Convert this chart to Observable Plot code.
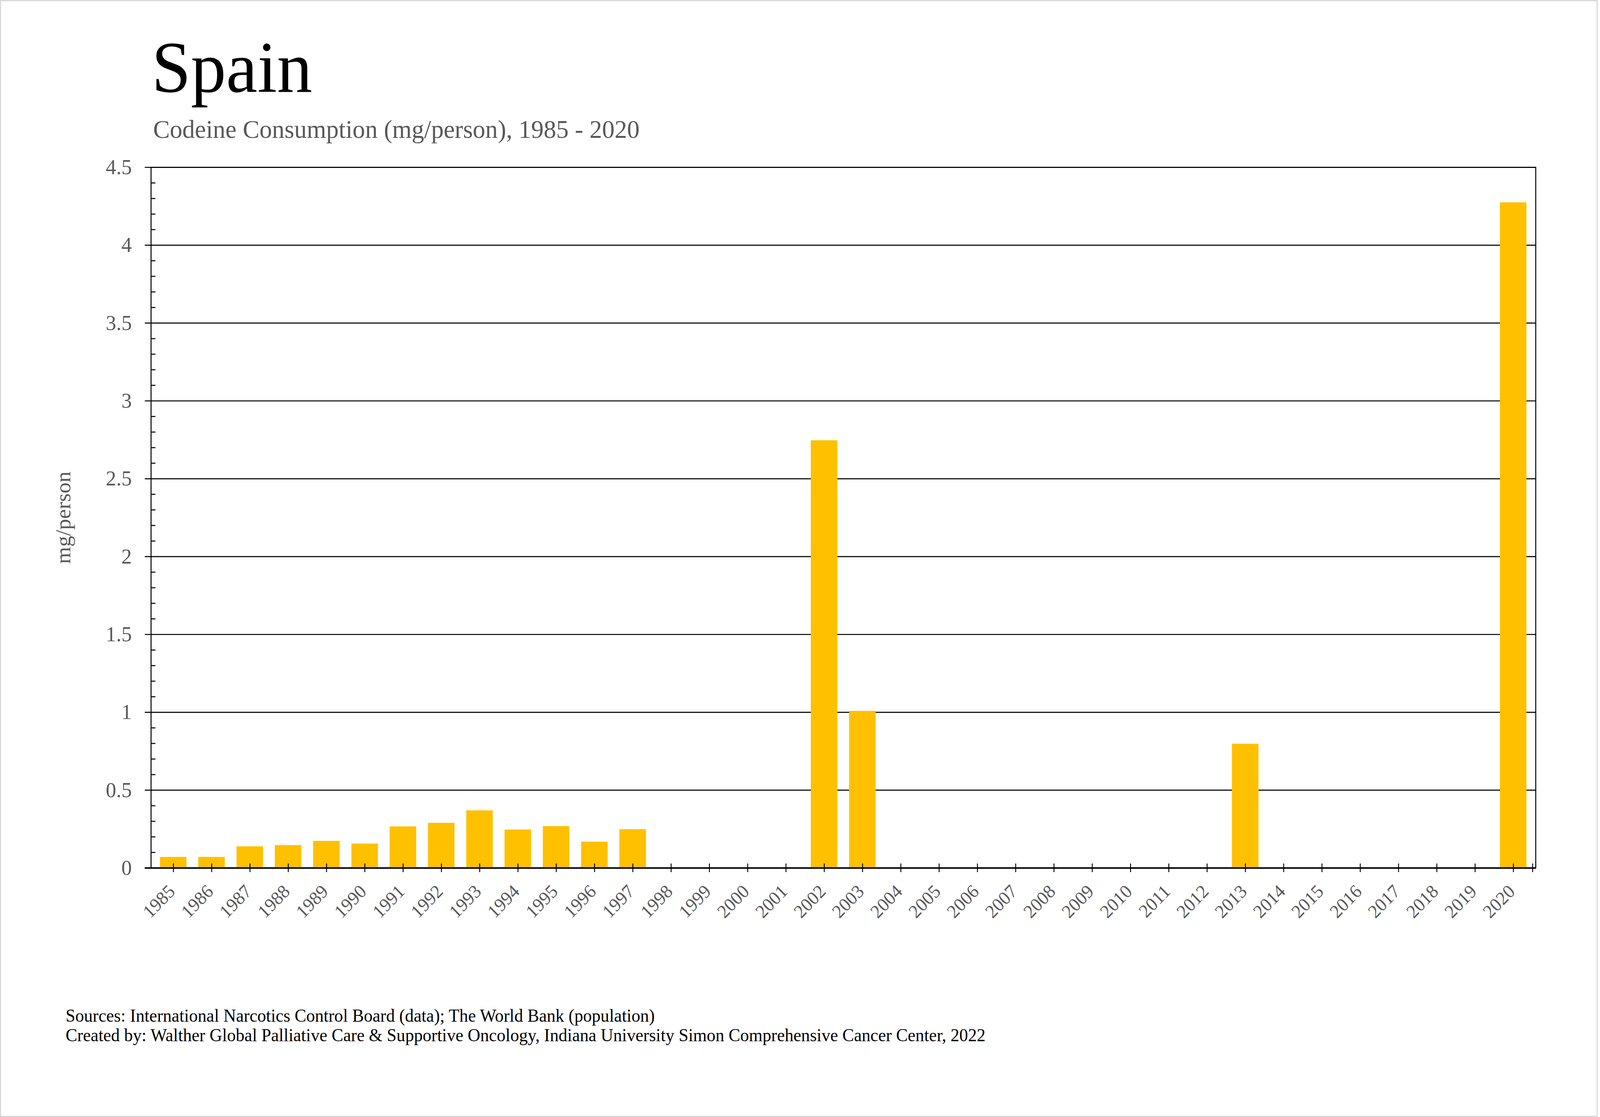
<!DOCTYPE html>
<html>
<head>
<meta charset="utf-8">
<script src="https://cdn.jsdelivr.net/npm/d3@7"></script>
<script src="https://cdn.jsdelivr.net/npm/@observablehq/plot@0.6"></script>
<style>
  html, body { margin: 0; padding: 0; background: #fff; overflow: hidden; }
  #page { position: relative; width: 4221px; height: 2860px; overflow: hidden; font-family: "Liberation Serif", "Times New Roman", serif; transform-origin: 0 0; }
  #border { position: absolute; left: 0; top: 0; width: 4215px; height: 2860px; box-sizing: border-box; border: 3px solid #d9d9d9; }
  #title { position: absolute; left: 400px; top: 79px; font-size: 186px; line-height: 186px; color: #000; white-space: nowrap; }
  #subtitle { position: absolute; left: 404px; top: 298px; font-size: 66px; line-height: 66px; color: #595959; white-space: nowrap; }
  #chart { position: absolute; left: 0; top: 380px; }
  #caption { position: absolute; left: 173px; top: 2576px; font-size: 46px; line-height: 50px; color: #000; white-space: nowrap; }
</style>
</head>
<body>
<div id="page">
  <div id="border"></div>
  <div id="title"></div>
  <div id="subtitle"></div>
  <div id="chart"></div>
  <div id="caption"></div>
</div>
<script>
// ---- data ----
const titleText = "Spain";
const subtitleText = "Codeine Consumption (mg/person), 1985 - 2020";
const yLabel = "mg/person";
const captionLines = [
  "Sources: International Narcotics Control Board (data); The World Bank (population)",
  "Created by: Walther Global Palliative Care & Supportive Oncology, Indiana University Simon Comprehensive Cancer Center, 2022"
];
const years = ["1985","1986","1987","1988","1989","1990","1991","1992","1993","1994","1995","1996","1997","1998","1999","2000","2001","2002","2003","2004","2005","2006","2007","2008","2009","2010","2011","2012","2013","2014","2015","2016","2017","2018","2019","2020"];
const values = [0.070,0.070,0.138,0.146,0.173,0.156,0.266,0.289,0.369,0.246,0.268,0.168,0.248,null,null,null,null,2.746,1.008,null,null,null,null,null,null,null,null,null,0.797,null,null,null,null,null,null,4.274];
const yTicks = [0, 0.5, 1, 1.5, 2, 2.5, 3, 3.5, 4, 4.5];
const yTickLabels = ["0","0.5","1","1.5","2","2.5","3","3.5","4","4.5"];

// ---- build ----
document.getElementById("title").textContent = titleText;
document.getElementById("subtitle").textContent = subtitleText;
document.getElementById("caption").innerHTML = captionLines.map(s => s.replace(/&/g, "&amp;")).join("<br>");

const rows = years.map((y, i) => ({year: y, value: values[i]})).filter(d => d.value != null);
const minorTicks = d3.range(1, 45).filter(i => i % 5 !== 0).map(i => i / 10);

const W = 4215, H = 2000;
const mL = 398, mR = W - 4051, mT = 48, mB = 158;
const plotW = W - mL - mR, plotH = H - mT - mB;
const gray = "#595959";
const font = "Liberation Serif, Times New Roman, serif";

const chart = Plot.plot({
  width: W, height: H,
  marginLeft: mL, marginRight: mR, marginTop: mT, marginBottom: mB,
  x: {type: "band", domain: years, paddingInner: 0.31, paddingOuter: 0.155, axis: null},
  y: {domain: [0, 4.5], axis: null},
  style: {fontFamily: font, background: "transparent", overflow: "visible"},
  marks: [
    // gridlines + outer major ticks
    Plot.ruleY(yTicks, {stroke: "#000", strokeWidth: 2.6, insetLeft: -16}),
    // bars
    Plot.barY(rows, {x: "year", y: "value", fill: "#FFC000"}),
    // frame: y axis, right edge, top line
    Plot.frame({stroke: "#000", strokeWidth: 2.6}),
    // x axis line
    Plot.ruleY([0], {stroke: "#000", strokeWidth: 4, insetLeft: -16}),
    // minor y ticks (inside)
    Plot.ruleY(minorTicks, {stroke: "#000", strokeWidth: 2.6, insetRight: plotW - 12}),
    // x ticks crossing the axis
    Plot.ruleX(years, {x: d => d, stroke: "#000", strokeWidth: 2.4, insetTop: plotH - 11, insetBottom: -11}),
    Plot.ruleX([years[years.length - 1]], {x: d => d, dx: 50.7, stroke: "#000", strokeWidth: 2.4, insetTop: plotH - 11, insetBottom: -11}),
    // y tick labels
    Plot.text(yTicks, {y: d => d, text: (d, i) => yTickLabels[i], frameAnchor: "left", dx: -50.7, textAnchor: "end", lineAnchor: "middle", fill: gray, fontSize: 55}),
    // x tick labels
    Plot.text(years, {x: d => d, text: d => d, frameAnchor: "bottom", dy: 52, dx: -4, rotate: -45, textAnchor: "end", lineAnchor: "middle", fill: gray, fontSize: 48}),
    // y axis title
    Plot.text([yLabel], {text: d => d, frameAnchor: "left", dx: -231, rotate: -90, textAnchor: "middle", lineAnchor: "middle", fill: gray, fontSize: 56})
  ]
});
document.getElementById("chart").appendChild(chart);

// the layout is drawn in 4221x2860 units; fit it to the real viewport
const vw = document.documentElement.clientWidth || window.innerWidth;
const vh = document.documentElement.clientHeight || window.innerHeight;
const sx = vw / 4221, sy = vh / 2860;
const page = document.getElementById("page");
if (Math.abs(sx - 1) > 0.002 || Math.abs(sy - 1) > 0.002) page.style.transform = `scale(${sx}, ${sy})`;
document.body.style.width = (4221 * sx) + "px";
document.body.style.height = (2860 * sy) + "px";
</script>
</body>
</html>
